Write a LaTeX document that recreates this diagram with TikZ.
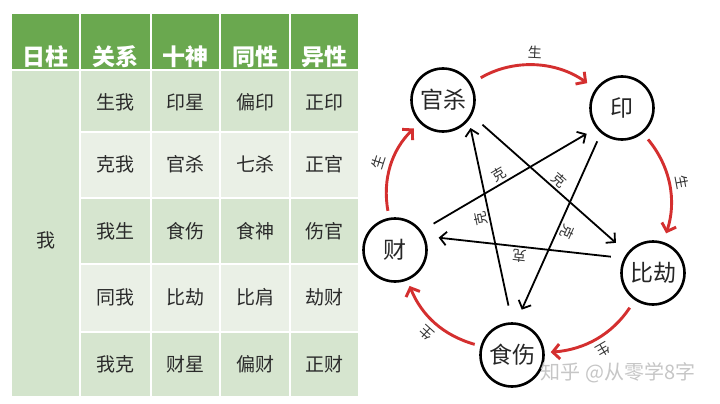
\documentclass[tikz,border=0pt]{standalone}
\usepackage{fontspec}
\newfontfamily\cjk{Noto Sans CJK SC}
\usetikzlibrary{arrows.meta}
\definecolor{hdr}{HTML}{6AA84F}
\definecolor{rowA}{HTML}{D6E5CF}
\definecolor{rowB}{HTML}{EAF0E6}
\definecolor{colone}{HTML}{D3E4CC}
\definecolor{txt}{HTML}{2B2B2B}
\definecolor{redc}{HTML}{D42F2F}
\begin{document}
\begin{tikzpicture}[x=1pt,y=1pt,
  hd/.style={text=white, font=\cjk\bfseries\fontsize{23}{23}\selectfont, inner sep=0pt},
  bd/.style={text=txt, font=\cjk\fontsize{19}{19}\selectfont, inner sep=0pt},
  circ/.style={circle, draw=black, line width=2.6pt, fill=white, minimum size=63pt, inner sep=0pt, text=black!85, font=\cjk\fontsize{23}{23}\selectfont},
  redarr/.style={draw=redc, line width=2.9pt, -{Straight Barb[length=7pt,width=15pt]}},
  blkarr/.style={draw=black, line width=1.8pt, -{Straight Barb[length=6.5pt,width=13.5pt]}},
  lbl/.style={font=\cjk\fontsize{14}{14}\selectfont, text=black!80, sloped, allow upside down, inner sep=2pt},
  wm/.style={font=\cjk\fontsize{20}{20}\selectfont, text=gray!45, inner sep=0pt}
]
\useasboundingbox (0,0) rectangle (720,-404);
\fill[white] (0,0) rectangle (720,-404);

% ---------- table ----------
\fill[hdr] (12,-14) rectangle (358,-70);
\fill[colone] (12,-70) rectangle (80,-396);
\fill[rowA] (80,-70) rectangle (358,-132);
\fill[rowB] (80,-132) rectangle (358,-198);
\fill[rowA] (80,-198) rectangle (358,-264);
\fill[rowB] (80,-264) rectangle (358,-332);
\fill[rowA] (80,-332) rectangle (358,-396);
\foreach \x in {80,151,220,290} \draw[white, line width=2pt] (\x,-14) -- (\x,-396);
\draw[white, line width=2pt] (12,-70) -- (358,-70);
\foreach \y in {132,198,264,332} \draw[white, line width=2pt] (80,-\y) -- (358,-\y);

\node[hd] (h1) at (46,-57) {日柱};
\node[hd] (h2) at (115.5,-57) {关系};
\node[hd] (h3) at (185.5,-57) {十神};
\node[hd] (h4) at (255,-57) {同性};
\node[hd] (h5) at (324,-57) {异性};

\node[bd] (wo) at (46,-240) {我};

\node[bd] (a1) at (115.5,-102) {生我};
\node[bd] (a2) at (185.5,-102) {印星};
\node[bd] (a3) at (255,-102) {偏印};
\node[bd] (a4) at (324,-102) {正印};

\node[bd] (b1) at (115.5,-164) {克我};
\node[bd] (b2) at (185.5,-164) {官杀};
\node[bd] (b3) at (255,-164) {七杀};
\node[bd] (b4) at (324,-164) {正官};

\node[bd] (c1) at (115.5,-231) {我生};
\node[bd] (c2) at (185.5,-231) {食伤};
\node[bd] (c3) at (255,-231) {食神};
\node[bd] (c4) at (324,-231) {伤官};

\node[bd] (d1) at (115.5,-297) {同我};
\node[bd] (d2) at (185.5,-297) {比劫};
\node[bd] (d3) at (255,-297) {比肩};
\node[bd] (d4) at (324,-297) {劫财};

\node[bd] (e1) at (115.5,-364) {我克};
\node[bd] (e2) at (185.5,-364) {财星};
\node[bd] (e3) at (255,-364) {偏财};
\node[bd] (e4) at (324,-364) {正财};

% ---------- diagram ----------
\node[circ] (gs) at (443,-100) {官杀};
\node[circ] (yin) at (622,-108) {印};
\node[circ] (cai) at (395,-250) {财};
\node[circ] (bj) at (653,-273) {比劫};
\node[circ] (ss) at (512,-355) {食伤};

% red 生 arcs
\draw[redarr, shorten <=11pt, shorten >=10pt] (gs) to[bend left=33] node[lbl, above=4pt] {生} (yin);
\draw[redarr, shorten <=8pt, shorten >=9pt] (yin) to[bend left=29] node[lbl, above=4pt] {生} (bj);
\draw[redarr, shorten <=9pt, shorten >=6pt] (bj) to[bend left=26] node[lbl, above=4pt] {生} (ss);
\draw[redarr, shorten <=6pt, shorten >=6pt] (ss) to[bend left=26] node[lbl, above=4pt] {生} (cai);
\draw[redarr, shorten <=7pt, shorten >=8pt] (cai) to[bend left=28] node[lbl, above=4pt] {生} (gs);

% black 克 arrows
\draw[blkarr, shorten <=14pt, shorten >=11pt] (cai.36) -- node[lbl, above, pos=0.47] {克} (yin.218);
\draw[blkarr, shorten <=14pt, shorten >=15pt] (gs.-28) -- node[lbl, above, pos=0.52] {克} (bj.142);
\draw[blkarr, shorten <=17pt, shorten >=8pt] (ss.90) -- node[lbl, above, pos=0.52] {克} (gs.-38);
\draw[blkarr, shorten <=9pt, shorten >=14pt] (yin.-130) -- node[lbl, above, pos=0.5] {克} (ss.83);
\draw[blkarr, shorten <=13pt, shorten >=14pt] (bj.153) -- node[lbl, above, pos=0.52] {克} (cai.25);

% watermark
\node[wm] (wmk) at (618,-373) {知乎 @从零学8字};
\end{tikzpicture}
\end{document}
